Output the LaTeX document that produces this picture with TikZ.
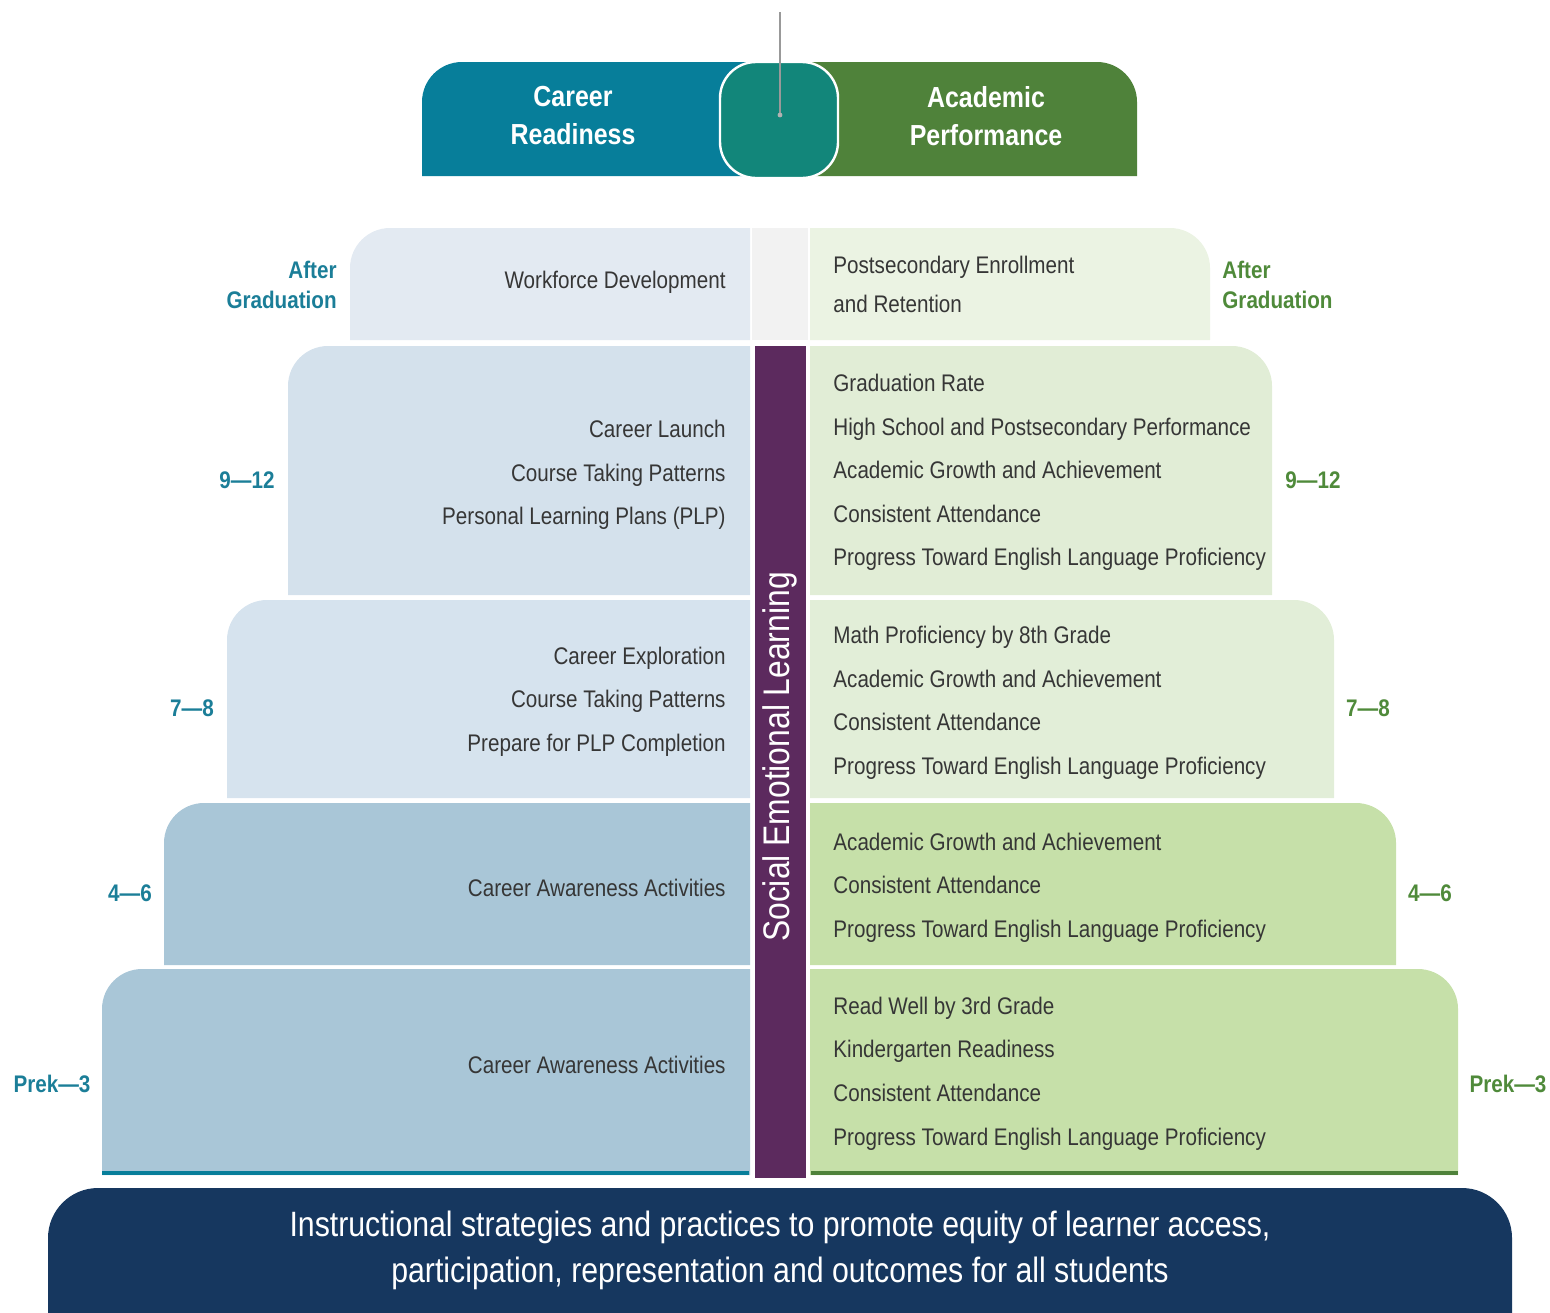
\documentclass[tikz,border=0pt]{standalone}
\usepackage{fontspec}
\setmainfont{Liberation Sans}[FakeStretch=0.86]
\definecolor{careerteal}{HTML}{077E9A}
\definecolor{academicgreen}{HTML}{4F823A}
\definecolor{overlapmid}{HTML}{12867A}
\definecolor{basenavy}{HTML}{16375F}
\definecolor{selpurple}{HTML}{5C2A5E}
\definecolor{lbzero}{HTML}{E3EAF2}
\definecolor{lgzero}{HTML}{EBF3E3}
\definecolor{lbone}{HTML}{D4E1EC}
\definecolor{lgone}{HTML}{E1EDD6}
\definecolor{lbtwo}{HTML}{D6E3EE}
\definecolor{lgtwo}{HTML}{E2EED8}
\definecolor{lbthree}{HTML}{A9C6D7}
\definecolor{lgthree}{HTML}{C6E0A9}
\definecolor{grayzero}{HTML}{F2F2F2}
\definecolor{gradeteal}{HTML}{1B7E98}
\definecolor{gradegreen}{HTML}{4F8A3A}
\definecolor{bodytxt}{HTML}{363636}
\begin{document}
\begin{tikzpicture}[x=0.5pt,y=-0.5pt,
	txt/.style={font=\fontsize{12}{13}\selectfont,text=bodytxt,inner sep=0pt},
	ltxt/.style={txt,anchor=base east},
	rtxt/.style={txt,anchor=base west},
	grade/.style={font=\bfseries\fontsize{12}{15}\selectfont,inner sep=0pt,align=center},
	head/.style={font=\bfseries\fontsize{14.5}{19}\selectfont,text=white,align=center}]
\useasboundingbox (0,0) rectangle (1550,1312);
% tiers, left and right halves
\foreach \T/\B/\L/\R/\cl/\cr in {228/340/350/1210/lbzero/lgzero,
	346/595/288/1272/lbone/lgone, 600/798/227/1334/lbtwo/lgtwo,
	803/965/164/1396/lbthree/lgthree, 969/1175/102/1458/lbthree/lgthree}{
	\fill[\cl] (750,\B) -- (\L,\B) [rounded corners=20pt] -- (\L,\T) [sharp corners] -- (750,\T) -- cycle;
	\fill[\cr] (810,\B) -- (\R,\B) [rounded corners=20pt] -- (\R,\T) [sharp corners] -- (810,\T) -- cycle;
}
\fill[grayzero] (752,228) rectangle (808,340);
\draw[careerteal,line width=2pt] (102,1173) -- (749,1173);
\draw[academicgreen,line width=2pt] (811,1173) -- (1458,1173);
% social emotional learning column
\fill[selpurple] (755,346) rectangle (806,1178);
\node[rotate=90,text=white,font=\fontsize{18.5}{18.5}\selectfont] (sel) at (780,757) {Social Emotional Learning};
% header bars
\fill[careerteal] (780,176) -- (422,176) [rounded corners=20pt] -- (422,62) [sharp corners] -- (780,62) -- cycle;
\fill[academicgreen] (780,176) -- (1137,176) [rounded corners=20pt] -- (1137,62) [sharp corners] -- (780,62) -- cycle;
\filldraw[fill=overlapmid,draw=white,line width=1.2pt,rounded corners=18pt] (720,62) rectangle (838,178);
\node[head] (career) at (573,116) {Career\\Readiness};
\node[head] (academic) at (986,116) {Academic\\Performance};
\coordinate (top) at (780,12);
\coordinate (pin) at (780,115);
\draw[gray!80,line width=0.8pt] (top) -- (pin);
\fill[gray!60] (pin) circle (1.2pt);
% career readiness items
\foreach \y/\t [count=\i] in {288/Workforce Development,
	437/Career Launch, 481/Course Taking Patterns, 524/Personal Learning Plans (PLP),
	664/Career Exploration, 707/Course Taking Patterns, 751/Prepare for PLP Completion,
	896/Career Awareness Activities, 1073/Career Awareness Activities}
	\node[ltxt] (c\i) at (726,\y) {\t};
% academic performance items
\foreach \y/\t [count=\i] in {273/Postsecondary Enrollment, 312/and Retention,
	391/Graduation Rate, 435/High School and Postsecondary Performance,
	478/Academic Growth and Achievement, 522/Consistent Attendance,
	565/Progress Toward English Language Proficiency,
	643/Math Proficiency by 8th Grade, 687/Academic Growth and Achievement,
	730/Consistent Attendance, 774/Progress Toward English Language Proficiency,
	850/Academic Growth and Achievement, 893/Consistent Attendance,
	937/Progress Toward English Language Proficiency,
	1014/Read Well by 3rd Grade, 1057/Kindergarten Readiness,
	1101/Consistent Attendance, 1145/Progress Toward English Language Proficiency}
	\node[rtxt] (a\i) at (833,\y) {\t};
% grade labels
\node[grade,text=gradeteal,anchor=east,align=right] (lg0) at (337,285) {After\\Graduation};
\node[grade,text=gradegreen,anchor=west,align=left] (rg0) at (1222,285) {After\\Graduation};
\foreach \xl/\xr/\y/\g [count=\i] in {247/1313/480/9---12, 192/1368/708/7---8,
	130/1430/893/4---6, 52/1508/1084/Prek---3}{
	\node[grade,text=gradeteal] (lg\i) at (\xl,\y) {\g};
	\node[grade,text=gradegreen] (rg\i) at (\xr,\y) {\g};
}
% foundation
\fill[basenavy] (48,1320) [rounded corners=25pt] -- (48,1188) -- (1512,1188) [sharp corners] -- (1512,1320) -- cycle;
\node[text=white,align=center,font=\fontsize{17.6}{23}\selectfont] (base) at (780,1250)
	{Instructional strategies and practices to promote equity of learner access,\\participation, representation and outcomes for all students};
\end{tikzpicture}
\end{document}
